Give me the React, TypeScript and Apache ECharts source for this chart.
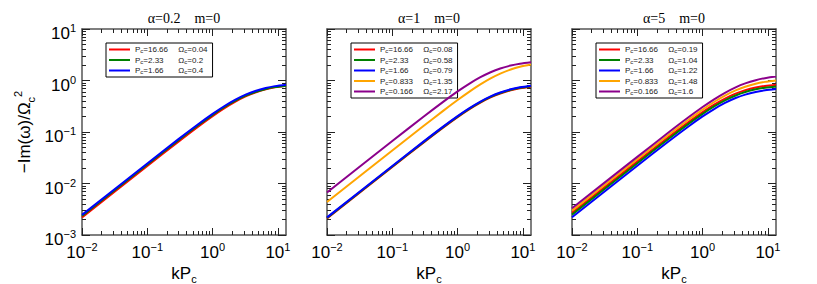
import React, { useEffect, useRef } from "react";
import * as echarts from "echarts";

// x values (kP_c)
const kP = [0.01, 0.1, 0.3, 0.6, 1, 1.5, 2.2, 3.2, 4.5, 6.5, 9, 13.3];

// Panel 1: alpha = 0.2
const a02Red = [0.0022, 0.02194, 0.0651, 0.1272, 0.2034, 0.2875, 0.3853, 0.4912, 0.5863, 0.6765, 0.7399, 0.7943];
const a02Green = [0.00235, 0.02342, 0.06941, 0.1351, 0.2152, 0.3024, 0.4019, 0.5073, 0.5997, 0.6851, 0.7438, 0.7934];
const a02Blue = [0.002457, 0.0245, 0.0726, 0.1413, 0.2251, 0.3163, 0.4204, 0.5306, 0.6273, 0.7166, 0.778, 0.8299];

// Panel 2: alpha = 1
const a1Red = [0.0021, 0.02094, 0.06213, 0.1214, 0.1941, 0.2744, 0.3678, 0.4689, 0.5596, 0.6457, 0.7063, 0.7582];
const a1Green = [0.00215, 0.02144, 0.06361, 0.1243, 0.1987, 0.281, 0.3765, 0.48, 0.5729, 0.6611, 0.7231, 0.7762];
const a1Blue = [0.0022, 0.02194, 0.0651, 0.1272, 0.2034, 0.2875, 0.3853, 0.4912, 0.5863, 0.6765, 0.7399, 0.7943];
const a1Orange = [0.00439, 0.04382, 0.1306, 0.2573, 0.4176, 0.6024, 0.8302, 1.098, 1.362, 1.639, 1.853, 2.052];
const a1Purple = [0.0067, 0.06676, 0.1979, 0.3851, 0.6136, 0.862, 1.1458, 1.4461, 1.7095, 1.953, 2.1202, 2.2618];

// Panel 3: alpha = 5
const a5Red = [0.0027, 0.02691, 0.07958, 0.1543, 0.244, 0.3397, 0.4461, 0.5552, 0.6476, 0.7303, 0.7854, 0.8312];
const a5Green = [0.00249, 0.02482, 0.07339, 0.1423, 0.225, 0.3132, 0.4114, 0.512, 0.5972, 0.6735, 0.7243, 0.7666];
const a5Blue = [0.00222, 0.02213, 0.06543, 0.1268, 0.2006, 0.2793, 0.3668, 0.4565, 0.5324, 0.6004, 0.6458, 0.6835];
const a5Orange = [0.00297, 0.02961, 0.08776, 0.1708, 0.2721, 0.3824, 0.5082, 0.6414, 0.7582, 0.8663, 0.9404, 1.0032];
const a5Purple = [0.0033, 0.03291, 0.09764, 0.1907, 0.3051, 0.4312, 0.5779, 0.7368, 0.8794, 1.0147, 1.1099, 1.1914];

// legend labels
const pcLabels = ["16.66", "2.33", "1.66", "0.833", "0.166"];
const omegaA02 = ["0.04", "0.2", "0.4"];
const omegaA1 = ["0.08", "0.58", "0.79", "1.35", "2.17"];
const omegaA5 = ["0.19", "1.04", "1.22", "1.48", "1.6"];
const panelTitles = ["\u03b1=0.2    m=0", "\u03b1=1    m=0", "\u03b1=5    m=0"];

// tick values
const xMajor = [0.01, 0.1, 1, 10];
const yMajor = [0.001, 0.01, 0.1, 1, 10];
const minorOf = (decades: number[]) => {
  const out: number[] = [];
  decades.forEach((d) => {
    for (let m = 2; m <= 9; m++) out.push(+(d * m).toPrecision(3));
  });
  return out;
};
const xMinor = minorOf([0.01, 0.1, 1, 10]).filter((v) => v <= 13.3);
const yMinor = minorOf([0.001, 0.01, 0.1, 1]);

const colors = ["#ff0000", "#008000", "#0000ff", "#ffa500", "#8b008b"];

const X_MIN = 0.01;
const X_MAX = 13.3;
const Y_MIN = 0.001;
const Y_MAX = 10;

const GRID_LEFTS = [82, 327, 572];
const GRID_W = 204;
const GRID_TOP = 29;
const GRID_H = 206;

const powLabel = (v: number) => {
  const e = Math.round(Math.log10(v));
  const s = e < 0 ? "\u2212" + Math.abs(e) : String(e);
  return "{b|10}{s|" + s + "}";
};
const powRich = {
  b: { fontSize: 17, fontFamily: "Liberation Sans", color: "#000", lineHeight: 22 },
  s: { fontSize: 11, fontFamily: "Liberation Sans", color: "#000", verticalAlign: "top", lineHeight: 12 },
};

const axisLineStyle = { color: "#555", width: 1.5 };
const tickStyle = { color: "#222", width: 1 };

function makeX(grid: number, pos: string, major: boolean, labels: boolean) {
  return {
    type: "log",
    logBase: 10,
    gridIndex: grid,
    position: pos,
    min: X_MIN,
    max: X_MAX,
    axisLine: { show: major, onZero: false, lineStyle: axisLineStyle },
    axisTick: {
      show: true,
      inside: true,
      length: major ? 7 : 4,
      customValues: major ? xMajor : xMinor,
      lineStyle: tickStyle,
    },
    axisLabel: {
      show: labels,
      customValues: xMajor,
      formatter: powLabel,
      rich: powRich,
      margin: 6,
    },
    splitLine: { show: false },
    minorTick: { show: false },
    name: labels ? "{n|kP}{c|c}" : "",
    nameLocation: "middle",
    nameGap: 25,
    nameTextStyle: {
      rich: {
        n: { fontSize: 17, fontFamily: "Liberation Sans", color: "#000" },
        c: { fontSize: 11, fontFamily: "Liberation Sans", color: "#000", padding: [10, 0, 0, 0] },
      },
    },
  };
}

function makeY(grid: number, pos: string, major: boolean, labels: boolean, withName: boolean) {
  return {
    type: "log",
    logBase: 10,
    gridIndex: grid,
    position: pos,
    min: Y_MIN,
    max: Y_MAX,
    axisLine: { show: major, onZero: false, lineStyle: axisLineStyle },
    axisTick: {
      show: true,
      inside: true,
      length: major ? 8 : 4,
      customValues: major ? yMajor : yMinor,
      lineStyle: tickStyle,
    },
    axisLabel: {
      show: labels,
      customValues: yMajor,
      formatter: powLabel,
      rich: powRich,
      margin: 6,
      padding: [9, 0, 0, 0],
    },
    splitLine: { show: false },
    minorTick: { show: false },
    name: withName ? "{n|\u2212Im(\u03c9)/\u03a9}{c|c}{t|2}" : "",
    nameLocation: "middle",
    nameGap: 46,
    nameRotate: 90,
    nameTextStyle: {
      rich: {
        n: { fontSize: 17, fontFamily: "Liberation Sans", color: "#000", lineHeight: 24 },
        c: { fontSize: 11, fontFamily: "Liberation Sans", color: "#000", verticalAlign: "bottom", lineHeight: 12 },
        t: { fontSize: 11, fontFamily: "Liberation Sans", color: "#000", verticalAlign: "top", lineHeight: 12 },
      },
    },
  };
}

const panels = [
  { series: [a02Red, a02Green, a02Blue], omega: omegaA02 },
  { series: [a1Red, a1Green, a1Blue, a1Orange, a1Purple], omega: omegaA1 },
  { series: [a5Red, a5Green, a5Blue, a5Orange, a5Purple], omega: omegaA5 },
];

export default function App() {
  const ref = useRef<HTMLDivElement>(null);
  useEffect(() => {
    if (!ref.current) return;
    const chart = echarts.init(ref.current, null, { renderer: "svg" });

    const grid: any[] = [];
    const xAxis: any[] = [];
    const yAxis: any[] = [];
    const series: any[] = [];
    const legend: any[] = [];
    const graphic: any[] = [];

    panels.forEach((p, g) => {
      grid.push({
        left: GRID_LEFTS[g],
        top: GRID_TOP,
        width: GRID_W,
        height: GRID_H,
        containLabel: false,
        outerBoundsMode: "none",
      });
      const xBase = xAxis.length;
      xAxis.push(makeX(g, "bottom", true, true));
      xAxis.push(makeX(g, "bottom", false, false));
      xAxis.push(makeX(g, "top", true, false));
      xAxis.push(makeX(g, "top", false, false));
      const yBase = yAxis.length;
      yAxis.push(makeY(g, "left", true, g === 0, g === 0));
      yAxis.push(makeY(g, "left", false, false, false));
      yAxis.push(makeY(g, "right", true, false, false));
      yAxis.push(makeY(g, "right", false, false, false));

      const names: string[] = [];
      p.series.forEach((vals, i) => {
        const name = "p" + g + "_" + i;
        names.push(name);
        series.push({
          type: "line",
          name,
          xAxisIndex: xBase,
          yAxisIndex: yBase,
          data: kP.map((k, j) => [k, vals[j]]),
          smooth: 0.3,
          showSymbol: false,
          symbol: "none",
          lineStyle: { color: colors[i], width: 2 },
          itemStyle: { color: colors[i] },
          clip: true,
          z: 2 + i,
        });
      });

      legend.push({
        data: names,
        orient: "vertical",
        left: GRID_LEFTS[g] + 24,
        top: 43,
        icon: "rect",
        itemWidth: 21,
        itemHeight: 2,
        itemGap: 1.5,
        padding: [2, 5, 2, 3],
        borderColor: "#000",
        borderWidth: 1,
        backgroundColor: "#fff",
        selectedMode: false,
        formatter: (name: string) => {
          const parts = name.slice(1).split("_");
          const gi = +parts[0];
          const ii = +parts[1];
          return (
            "{a|P}{c|c}{v|=" + pcLabels[ii] + "}{a|\u03a9}{c|c}{a|=" + panels[gi].omega[ii] + "}"
          );
        },
        textStyle: {
          fontSize: 8,
          fontFamily: "Liberation Sans",
          color: "#222",
          lineHeight: 9,
          rich: {
            a: { fontSize: 8, fontFamily: "Liberation Sans", color: "#222", lineHeight: 9 },
            v: { fontSize: 8, fontFamily: "Liberation Sans", color: "#222", lineHeight: 9, width: 35 },
            c: { fontSize: 6, fontFamily: "Liberation Sans", color: "#222", padding: [3, 0, 0, 0] },
          },
        },
      });

      graphic.push({
        type: "text",
        x: GRID_LEFTS[g] + GRID_W / 2,
        y: 11,
        style: {
          text: panelTitles[g],
          font: "14px 'Liberation Serif'",
          fill: "#000",
          textAlign: "center",
        },
      });
    });

    chart.setOption({
      animation: false,
      backgroundColor: "#fff",
      grid,
      xAxis,
      yAxis,
      series,
      legend,
      graphic,
    });
    return () => chart.dispose();
  }, []);
  return <div ref={ref} style={{ width: 817, height: 284, position: "absolute", left: 0, top: 0 }} />;
}
